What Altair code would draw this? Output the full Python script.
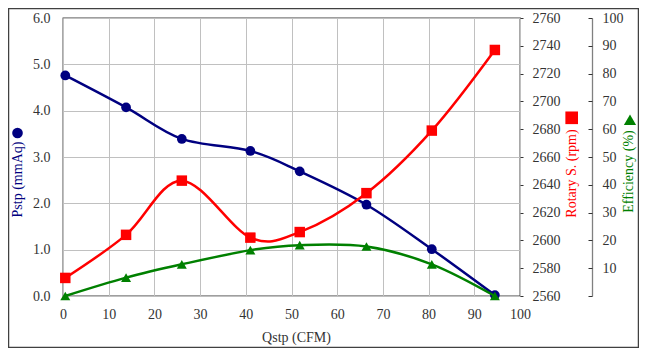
import altair as alt
import pandas as pd

# ---- data ----
q = [0.5, 13.8, 26.0, 41.0, 51.8, 66.4, 80.7, 94.5]
pstp = [4.76, 4.07, 3.39, 3.13, 2.69, 1.97, 1.01, 0.02]
rpm = [2573, 2604, 2643, 2602, 2606, 2634, 2679, 2737]
eff = [0.0, 6.6, 11.4, 16.5, 18.3, 17.8, 11.4, 0.0]

x_ticks = list(range(0, 101, 10))
p_ticks = [0, 1, 2, 3, 4, 5, 6]
rpm_ticks = list(range(2560, 2761, 20))
eff_ticks = list(range(0, 101, 10))

df = pd.DataFrame({"Q": q, "P": pstp, "RPM": rpm, "EFF": eff})
one = pd.DataFrame({"k": [0]})

W, H = 457, 278
FONT = "Liberation Serif"
TXT = "#333333"
NAVY = "#000080"
RED = "#FF0000"
GREEN = "#008000"

common = dict(labelFont=FONT, labelFontSize=14, labelColor=TXT, labelFlush=False,
              titleFont=FONT, titleFontSize=14, titleFontWeight="normal")

xenc = alt.X(
    "Q:Q",
    scale=alt.Scale(domain=[0, 100], nice=False, zero=False),
    axis=alt.Axis(values=x_ticks, title="Qstp (CFM)", grid=True, ticks=False,
                  tickSize=0, domain=False, labelPadding=11, format="d",
                  titleX=233, titleY=45, titleBaseline="alphabetic",
                  titleColor=TXT, **common),
)

blue = alt.Chart(df).mark_line(
    color=NAVY, strokeWidth=2.5, interpolate="cardinal",
    point=alt.OverlayMarkDef(shape="circle", size=95, filled=True, color=NAVY, opacity=1),
).encode(
    x=xenc,
    y=alt.Y("P:Q", scale=alt.Scale(domain=[0, 6], nice=False),
            axis=alt.Axis(orient="left", values=p_ticks, format=".1f", grid=True,
                          ticks=False, tickSize=0, domain=False, labelPadding=13,
                          title="Pstp (mmAq)", titleColor=NAVY, titleAngle=270,
                          titleX=-46, titleY=161, titleAlign="center",
                          titleBaseline="middle", **common)),
)

red = alt.Chart(df).mark_line(
    color=RED, strokeWidth=2.5, interpolate="cardinal",
    point=alt.OverlayMarkDef(shape="square", size=110, filled=True, color=RED, opacity=1),
).encode(
    x=xenc,
    y=alt.Y("RPM:Q", scale=alt.Scale(domain=[2560, 2760], nice=False, zero=False),
            axis=alt.Axis(orient="right", values=rpm_ticks, format="d", grid=False,
                          ticks=True, tickSize=3, tickColor=TXT, domain=False,
                          labelPadding=9, title="Rotary S. (rpm)", titleColor=RED,
                          titleAngle=270, titleX=51, titleY=155, titleAlign="center",
                          titleBaseline="middle", **common)),
)

green = alt.Chart(df).mark_line(
    color=GREEN, strokeWidth=2.5, interpolate="cardinal",
    point=alt.OverlayMarkDef(shape="triangle-up", size=100, filled=True, color=GREEN, opacity=1),
).encode(
    x=xenc,
    y=alt.Y("EFF:Q", scale=alt.Scale(domain=[0, 100], nice=False),
            axis=alt.Axis(orient="right", offset=72, values=eff_ticks, format="d",
                          grid=False, ticks=False, tickSize=0, domain=True,
                          domainColor="#808080", domainWidth=1.3, labelPadding=10,
                          labelExpr="datum.value == 0 ? '' : datum.label",
                          title="Efficiency (%)", titleColor=GREEN, titleAngle=270,
                          titleX=36, titleY=153, titleAlign="center",
                          titleBaseline="middle", **common)),
)

green_ticks = alt.Chart(df).mark_point(opacity=0).encode(
    x=xenc,
    y=alt.Y("EFF:Q", scale=alt.Scale(domain=[0, 100], nice=False),
            axis=alt.Axis(orient="right", offset=68, values=eff_ticks, grid=False,
                          ticks=True, tickSize=4, tickColor=TXT, domain=False,
                          labels=False, title=None)),
)

sym_circle = alt.Chart(one).mark_point(shape="circle", size=113, filled=True,
                                       color=NAVY, opacity=1).encode(
    x=alt.value(-45.5), y=alt.value(115))
sym_square = alt.Chart(one).mark_point(shape="square", size=160, filled=True,
                                       color=RED, opacity=1).encode(
    x=alt.value(508.7), y=alt.value(99.8))
sym_tri = alt.Chart(one).mark_point(shape="triangle-up", size=150, filled=True,
                                    color=GREEN, opacity=1).encode(
    x=alt.value(567), y=alt.value(101.7))

border = alt.Chart(one).mark_rect(fill="white", fillOpacity=0, stroke="#404040",
                                  strokeWidth=1.5).encode(
    x=alt.value(-54.5), x2=alt.value(575.5), y=alt.value(-9.5), y2=alt.value(329.5))

chart = alt.layer(
    blue, red, green, green_ticks, sym_circle, sym_square, sym_tri, border
).resolve_scale(y="independent").properties(
    width=W, height=H,
    padding={"left": 55, "top": 10, "right": 119, "bottom": 52},
    autosize="none",
    background="white",
).configure_view(
    stroke="#404040", strokeWidth=1.3
).configure_axis(
    labelFont=FONT, labelFontSize=14, labelColor=TXT,
    titleFont=FONT, titleFontSize=14, titleFontWeight="normal", titleColor=TXT,
    gridColor="#c0c0c0", gridWidth=1,
)

chart.save("out.html", embed_options={"renderer": "svg", "actions": False})
